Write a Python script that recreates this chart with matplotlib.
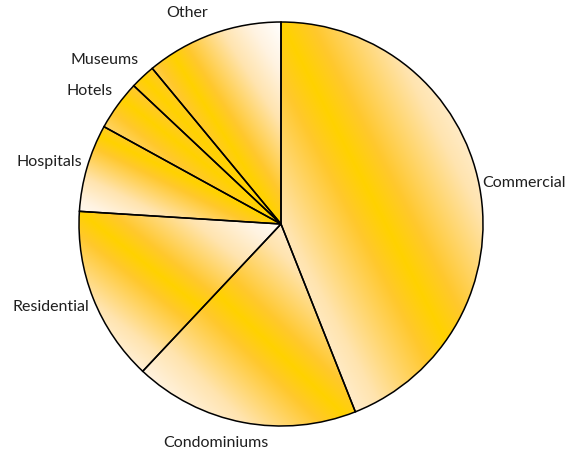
import numpy as np
import matplotlib.pyplot as plt

# ***********************data********************
categories = ["Commercial", "Condominiums", "Residential", "Hospitals", "Hotels", "Museums", "Other"]
shares = [44, 18, 14, 7, 4, 2, 11]

# label spots (pie radius = 1) and alignment
label_xy = [(0.995, 0.203), (-0.324, -1.084), (-0.950, -0.411), (-0.985, 0.307),
            (-0.832, 0.658), (-0.703, 0.812), (-0.463, 1.045)]
label_ha = ["left", "center", "right", "right", "right", "right", "center"]

# gradient stops: gold on the diagonal, white in the far corners
stop_t = [0.0, 0.15, 0.5, 0.75, 1.0]
stop_rgb = np.array([[255, 210, 0], [255, 200, 45], [255, 228, 175],
                     [255, 243, 225], [255, 255, 255]]) / 255

fig = plt.figure(figsize=(5.66, 4.53), dpi=100)
ax = fig.add_axes([0, 0, 1, 1])

wedges, _ = ax.pie(shares, startangle=90, counterclock=False, radius=1,
                   wedgeprops=dict(facecolor="none", edgecolor="black", linewidth=1.1))

# ***********************gradient fill per wedge********************
for w in wedges:
    a = np.radians(np.linspace(w.theta1, w.theta2, 400))
    xs = np.concatenate([[0], np.cos(a)])
    ys = np.concatenate([[0], np.sin(a)])
    x0, x1, y0, y1 = xs.min(), xs.max(), ys.min(), ys.max()
    u, v = np.meshgrid(np.linspace(0, 1, 200), np.linspace(0, 1, 200))
    t = np.abs(u - v)  # v counts from the top row (imshow origin upper)
    img = np.stack([np.interp(t, stop_t, stop_rgb[:, c]) for c in range(3)], axis=-1)
    im = ax.imshow(img, extent=(x0, x1, y0, y1), origin="upper", zorder=w.get_zorder() - 0.5,
                   interpolation="bilinear")
    im.set_clip_path(w)

for name, (x, y), ha in zip(categories, label_xy, label_ha):
    ax.text(x, y, name, ha=ha, va="center", fontsize=11.5, family="Lato", color="#1f1f1f")

ax.set_xlim(-281 / 202, (566 - 281) / 202)
ax.set_ylim(-(453 - 224) / 202, 224 / 202)
ax.set_aspect("auto")
ax.axis("off")

fig.savefig("out.png", dpi=100)
